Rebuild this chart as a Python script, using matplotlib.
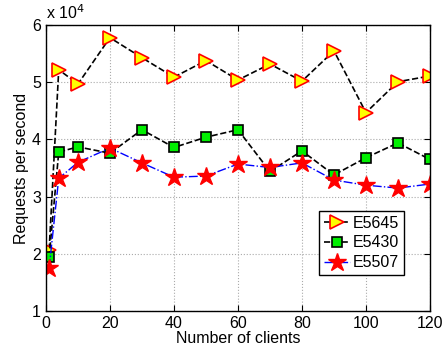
import matplotlib
matplotlib.use("Agg")
import matplotlib.pyplot as plt
from matplotlib.ticker import FuncFormatter

plt.rcParams['font.family'] = ['Liberation Sans', 'DejaVu Sans']

# Number of clients
clients = [1, 4, 10, 20, 30, 40, 50, 60, 70, 80, 90, 100, 110, 120]

# Requests per second for each CPU
e5645 = [20700, 52200, 49700, 57800, 54300, 50900, 53800, 50400, 53200, 50200, 55500, 44700, 50100, 51100]
e5430 = [19400, 37800, 38700, 37600, 41700, 38600, 40400, 41700, 34400, 38000, 33800, 36800, 39400, 36500]
e5507 = [17500, 33200, 36000, 38500, 35900, 33400, 33600, 35700, 35100, 35900, 32900, 32000, 31500, 32200]

fig = plt.figure(figsize=(4.46, 3.49), dpi=100)
ax = fig.add_axes([0.103, 0.109, 0.861, 0.819])

ax.plot(clients, e5645, linestyle='--', color='black', linewidth=1.2,
        marker='>', markersize=10.5, markerfacecolor='yellow',
        markeredgecolor='red', markeredgewidth=1.2, label='E5645')
ax.plot(clients, e5430, linestyle='--', color='black', linewidth=1.2,
        marker='s', markersize=7.5, markerfacecolor='#00ee00',
        markeredgecolor='black', markeredgewidth=1.2, label='E5430')
ax.plot(clients, e5507, linestyle='-.', color='blue', linewidth=1.0,
        marker='*', markersize=13.5, markerfacecolor='red',
        markeredgecolor='red', markeredgewidth=1.0, label='E5507')

ax.set_xlim(0, 120)
ax.set_ylim(10000, 60000)
ax.set_xticks([0, 20, 40, 60, 80, 100, 120])
ax.set_yticks([10000, 20000, 30000, 40000, 50000, 60000])
ax.yaxis.set_major_formatter(FuncFormatter(lambda v, p: f"{v / 1e4:g}"))
ax.tick_params(direction='in', top=True, right=True, labelsize=11.5, length=4)
ax.grid(True, linestyle=':', color='#aaaaaa', linewidth=0.8)

ax.set_xlabel("Number of clients", fontsize=11.5, labelpad=0)
ax.set_ylabel("Requests per second", fontsize=11.5, labelpad=2)
ax.text(0.0, 1.01, r"x 10$^4$", transform=ax.transAxes, fontsize=11.5,
        ha='left', va='bottom')

leg = ax.legend(loc='lower right', bbox_to_anchor=(0.932, 0.126), fontsize=11.5,
                handlelength=1.6, handletextpad=0.2, borderpad=0.3,
                labelspacing=0.3, borderaxespad=0, fancybox=False,
                framealpha=1, edgecolor='black')
leg.get_frame().set_linewidth(1.0)

for s in ax.spines.values():
    s.set_linewidth(1.0)

fig.savefig("out.png", dpi=100)
